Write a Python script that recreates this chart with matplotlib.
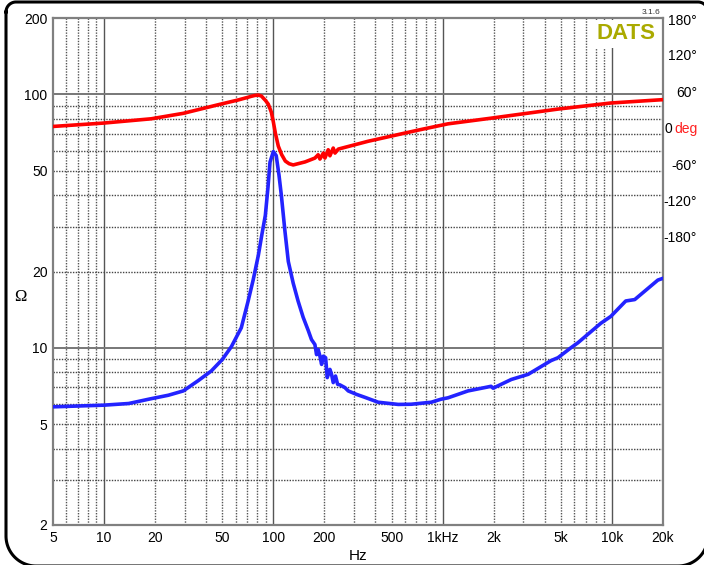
import numpy as np
import matplotlib
matplotlib.use("Agg")
import matplotlib.pyplot as plt
from matplotlib.ticker import FixedLocator, NullFormatter, LogLocator
from matplotlib.transforms import blended_transform_factory

plt.rcParams['font.family'] = ['Liberation Sans', 'DejaVu Sans']

# impedance magnitude (ohm)
imp_freq = [5, 10, 14, 19, 24, 29.4, 36, 43, 50, 56.5, 64.7, 71, 76, 81.6, 86, 89.7, 93, 95.6, 100, 104,
            108, 111.5, 117, 122.6, 131, 140, 150, 160.8, 168, 176, 180, 184, 188.5, 192.8, 197.4, 203.6, 208.2,
            215.9, 220.7, 225.8, 233, 239.6, 247.4, 264.4, 277, 310, 349, 416, 546, 652, 856,
            978, 1075, 1411, 1775, 1930, 1985, 2541, 3198, 4360, 4795, 5714, 6279, 8592,
            9836, 12050, 13620, 18650, 20000]
imp_ohm = [5.85, 5.94, 6.03, 6.3, 6.5, 6.76, 7.42, 8.1, 9.0, 10.1, 12.0, 15.3, 18.5, 23.2, 28.5, 33.3, 43, 54, 59.4, 57.3,
           48, 40, 29, 21.9, 18.0, 15.3, 13.2, 11.7, 10.78, 10.3, 9.4, 9.85, 9.27, 8.6, 9.27, 9.14, 7.63,
           8.22, 7.86, 7.29, 7.74, 7.18, 7.14, 6.97, 6.76, 6.55, 6.37, 6.1, 5.98, 5.99, 6.1,
           6.27, 6.35, 6.76, 6.97, 7.05, 6.93, 7.5, 7.86, 8.9, 9.14, 10.0, 10.46, 12.5,
           13.3, 15.3, 15.5, 18.5, 18.8]

# phase (degrees)
ph_freq = [5, 10, 19, 29.4, 47, 62, 70, 74, 78, 81.6, 85, 87.3, 90, 93.4, 97.3, 100, 102.8, 107, 112, 117.7,
           124, 131, 154, 176, 184, 188.5, 197.4, 201.7, 210.9, 215.9, 225.8, 231.3, 241.9, 363, 718, 1075,
           1930, 4795, 9836, 18650, 20000]
ph_deg = [4.4, 10, 17, 26, 40, 48, 52, 54, 55.5, 56, 54.5, 51, 47, 41, 28, 12, -6.6, -28, -42, -52.6,
          -57, -59, -54, -47.7, -42.2, -49.3, -39.5, -47.7, -34, -43.9, -31.2, -39.5, -32.9, -20, -1.6, 8.7,
          18, 33, 43, 48, 48.5]

x_ticks = [5, 10, 20, 50, 100, 200, 500, 1000, 2000, 5000, 10000, 20000]
x_labels = ["5", "10", "20", "50", "100", "200", "500", "1kHz", "2k", "5k", "10k", "20k"]
y_ticks = [2, 5, 10, 20, 50, 100, 200]
ph_ticks = [180, 120, 60, 0, -60, -120, -180]

W, H = 704, 565
fig = plt.figure(figsize=(W / 100, H / 100), dpi=100)

# rounded outer frame
bg = fig.add_axes([0, 0, 1, 1])
bg.set_xlim(0, W)
bg.set_ylim(H, 0)
bg.axis("off")
def arc(cx, cy, r, a0, a1):
    t = np.radians(np.linspace(a0, a1, 30))
    return cx + r * np.cos(t), cy + r * np.sin(t)
rt, rb = 10, 30
xs, ys = [], []
for cx, cy, r, a0, a1 in [(6 + rt, 2 + rt, rt, 180, 270), (708 - rt, 2 + rt, rt, 270, 360),
                          (708 - rb, 566 - rb, rb, 0, 90), (6 + rb, 566 - rb, rb, 90, 180)]:
    px, py = arc(cx, cy, r, a0, a1)
    xs += list(px); ys += list(py)
xs.append(xs[0]); ys.append(ys[0])
bg.plot(xs, ys, color="black", lw=2.2)

left, right, top, bottom = 53, 663, 18, 525
ax = fig.add_axes([left / W, 1 - bottom / H, (right - left) / W, (bottom - top) / H])
ax.set_xscale("log")
ax.set_yscale("log")
ax.set_xlim(5, 20000)
ax.set_ylim(2, 200)

ax.xaxis.set_major_locator(FixedLocator(x_ticks))
ax.set_xticklabels(x_labels)
ax.xaxis.set_minor_locator(LogLocator(base=10, subs=np.arange(2, 10)))
ax.xaxis.set_minor_formatter(NullFormatter())
ax.yaxis.set_major_locator(FixedLocator(y_ticks))
ax.set_yticklabels([str(v) for v in y_ticks])
ax.yaxis.set_minor_locator(LogLocator(base=10, subs=np.arange(2, 10)))
ax.yaxis.set_minor_formatter(NullFormatter())
ax.tick_params(which="both", length=0, labelsize=10, colors="black")
ax.tick_params(axis="x", pad=4)
ax.tick_params(axis="y", pad=4)

# grid lines
for v in [10, 100, 1000, 10000]:
    ax.axvline(v, color="#555555", lw=1.0, zorder=1)
for d in [1, 10, 100, 1000, 10000]:
    for m in range(2, 10):
        v = d * m
        if 5 < v < 20000:
            ax.axvline(v, color="#555555", lw=1.0, ls=(0, (1, 1)), zorder=1)
for v in [10, 100]:
    ax.axhline(v, color="#777777", lw=1.4, zorder=1)
for d in [1, 10, 100]:
    for m in range(2, 10):
        v = d * m
        if 2 < v < 200 and v not in (10, 100):
            ax.axhline(v, color="#444444", lw=1.0, ls=(0, (1, 1)), zorder=1)

for s in ax.spines.values():
    s.set_color("#808080")
    s.set_linewidth(1.6)

ax.plot(imp_freq, imp_ohm, color="#2323ff", lw=2.6, zorder=3, solid_joinstyle="round")

ax2 = ax.twinx()
ax2.set_ylim(-652, 183)
ax2.set_yticks([])
for s in ax2.spines.values():
    s.set_visible(False)
ax2.plot(ph_freq, ph_deg, color="#ff0000", lw=2.6, zorder=3, solid_joinstyle="round")

tr = blended_transform_factory(fig.transFigure, ax2.transData)
xr = 697 / W
for p in ph_ticks:
    if p == 0:
        ax2.text(698 / W, p, "deg", color="#ff2020", fontsize=10, ha="right", va="center", transform=tr)
        ax2.text(672 / W, p, "0", color="black", fontsize=10, ha="right", va="center", transform=tr)
    else:
        yy = 178 if p == 180 else p
        ax2.text(xr, yy, "%d°" % p, color="black", fontsize=10, ha="right", va="center", transform=tr)

# brand label
ax.text(0.988, 0.99, "DATS", transform=ax.transAxes, ha="right", va="top",
        fontsize=16, fontweight="bold", color="#aaaa00", zorder=4,
        bbox=dict(facecolor="white", edgecolor="none", pad=2.5))
fig.text(660 / W, 1 - 12 / H, "3.1.6", fontsize=6, ha="right", va="center", color="#333333")

fig.text(358 / W, 1 - 556 / H, "Hz", fontsize=11, ha="center", va="center")
fig.text(20 / W, 1 - 297 / H, "Ω", fontsize=12, ha="center", va="center",
         family=["Liberation Serif", "DejaVu Serif"])

fig.savefig("out.png", dpi=100)
